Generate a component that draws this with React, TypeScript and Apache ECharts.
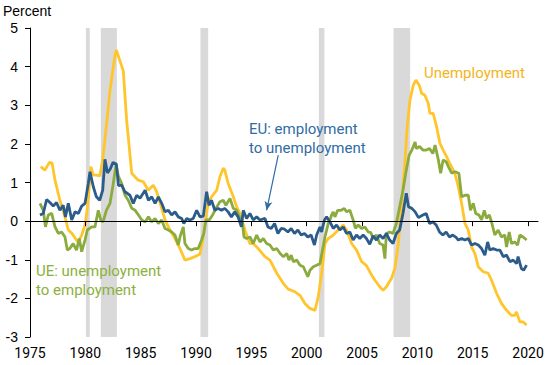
import React, { useEffect, useRef } from "react";
import * as echarts from "echarts";

const xTicks = [1975, 1980, 1985, 1990, 1995, 2000, 2005, 2010, 2015, 2020];
const yMin = -3;
const yMax = 5;

const recessions: [number, number][] = [
  [1980.05, 1980.4],
  [1981.4, 1982.85],
  [1990.4, 1991.1],
  [2001.1, 2001.6],
  [2007.85, 2009.35],
];

const unemployment: [number, number][] = [
  [1975.97, 1.41], [1976.35, 1.32], [1976.75, 1.52], [1977.0, 1.5], [1977.26, 1.06], [1977.7, 0.54],
  [1978.16, 0.11], [1978.46, -0.23], [1978.77, -0.31], [1979.2, -0.49], [1979.37, -0.54], [1979.67, -0.36],
  [1979.97, -0.1], [1980.18, 0.33], [1980.36, 0.89], [1980.5, 1.41], [1980.72, 1.19], [1981.0, 1.19],
  [1981.3, 1.17], [1981.57, 1.58], [1981.93, 2.54], [1982.23, 3.39], [1982.68, 4.3], [1982.8, 4.43],
  [1983.43, 3.89], [1983.73, 2.62], [1984.19, 1.24], [1984.78, 1.06], [1985.24, 1.02], [1985.69, 0.8],
  [1986.14, 0.93], [1986.45, 0.76], [1986.9, 0.33], [1987.2, 0.03], [1987.65, -0.23], [1988.1, -0.45],
  [1988.55, -0.71], [1989.0, -1.01], [1989.45, -0.97], [1989.9, -0.92], [1990.36, -0.85], [1990.6, -0.5],
  [1990.8, -0.06], [1991.1, 0.46], [1991.4, 0.63], [1991.87, 0.8], [1992.16, 1.15], [1992.46, 1.37],
  [1992.6, 1.32], [1992.9, 0.98], [1993.37, 0.63], [1993.67, 0.37], [1993.97, 0.2], [1994.42, -0.23],
  [1994.87, -0.58], [1995.17, -0.58], [1995.62, -0.71], [1996.23, -0.92], [1996.68, -1.01], [1997.3, -1.35],
  [1997.88, -1.61], [1998.33, -1.76], [1998.94, -1.83], [1999.39, -1.92], [1999.84, -2.13], [2000.29, -2.26],
  [2000.75, -2.31], [2001.04, -1.96], [2001.35, -1.35], [2001.65, -0.58], [2001.95, -0.45], [2002.4, -0.36],
  [2002.85, -0.23], [2003.3, -0.1], [2003.6, -0.23], [2004.06, -0.58], [2004.51, -0.75], [2004.96, -1.05],
  [2005.4, -1.15], [2005.87, -1.4], [2006.17, -1.53], [2006.6, -1.7], [2006.9, -1.79], [2007.2, -1.7],
  [2007.67, -1.48], [2007.97, -1.22], [2008.27, -0.62], [2008.57, 0.4], [2008.87, 1.5], [2009.08, 2.44],
  [2009.33, 3.13], [2009.63, 3.52], [2009.87, 3.65], [2010.17, 3.52], [2010.38, 3.31], [2010.68, 3.26],
  [2010.98, 3.05], [2011.13, 2.79], [2011.43, 2.79], [2011.74, 2.44], [2012.04, 2.01], [2012.33, 1.84],
  [2012.64, 1.67], [2012.94, 1.49], [2013.39, 1.24], [2013.69, 0.9], [2014.0, 0.46], [2014.3, -0.06],
  [2014.6, -0.23], [2014.9, -0.67], [2015.2, -0.84], [2015.5, -1.18], [2015.95, -1.31], [2016.4, -1.35],
  [2016.7, -1.53], [2017.16, -1.87], [2017.6, -2.13], [2018.06, -2.31], [2018.5, -2.44], [2018.8, -2.44],
  [2018.96, -2.35], [2019.26, -2.61], [2019.56, -2.61], [2019.87, -2.69],
];

const eu: [number, number][] = [
  [1975.9, 0.16], [1976.2, 0.2], [1976.5, 0.56], [1976.8, 0.48], [1977.1, 0.39], [1977.4, 0.48],
  [1977.7, 0.28], [1978.0, 0.41], [1978.2, 0.11], [1978.46, 0.46], [1978.77, 0.03], [1979.07, 0.24],
  [1979.37, 0.2], [1979.67, 0.39], [1979.97, 0.46], [1980.27, 0.98], [1980.42, 1.28], [1980.72, 0.89],
  [1981.0, 0.63], [1981.3, 0.54], [1981.57, 0.8], [1981.77, 1.6], [1982.0, 1.25], [1982.25, 1.35],
  [1982.5, 1.52], [1982.8, 1.48], [1983.0, 0.92], [1983.28, 0.93], [1983.58, 0.76], [1984.03, 0.67],
  [1984.33, 0.46], [1984.64, 0.67], [1984.94, 0.59], [1985.4, 0.8], [1985.7, 0.54], [1986.0, 0.63],
  [1986.3, 0.46], [1986.6, 0.63], [1986.9, 0.46], [1987.2, 0.24], [1987.5, 0.28], [1987.8, 0.16],
  [1988.1, 0.24], [1988.4, 0.11], [1988.7, 0.07], [1988.9, -0.06], [1989.16, 0.07], [1989.45, 0.03],
  [1989.75, 0.07], [1990.06, 0.28], [1990.36, 0.11], [1990.66, 0.13], [1990.96, 0.76], [1991.17, 0.41],
  [1991.4, 0.54], [1991.7, 0.28], [1992.0, 0.33], [1992.3, 0.28], [1992.6, 0.33], [1992.9, 0.24],
  [1993.2, 0.11], [1993.5, 0.24], [1993.8, 0.11], [1994.1, -0.15], [1994.27, 0.28], [1994.57, 0.07],
  [1994.87, 0.2], [1995.17, 0.03], [1995.48, 0.11], [1995.78, 0.03], [1996.23, 0.07], [1996.5, -0.15],
  [1996.8, -0.19], [1997.1, -0.06], [1997.4, -0.32], [1997.7, -0.19], [1998.0, -0.21], [1998.3, -0.28],
  [1998.6, -0.19], [1998.9, -0.32], [1999.2, -0.23], [1999.5, -0.36], [1999.8, -0.32], [2000.1, -0.41],
  [2000.4, -0.36], [2000.7, -0.62], [2000.9, -0.36], [2001.2, -0.15], [2001.35, -0.28], [2001.6, 0.03],
  [2001.8, 0.11], [2002.1, -0.02], [2002.4, -0.19], [2002.7, -0.1], [2003.0, -0.23], [2003.3, -0.15],
  [2003.6, -0.32], [2003.9, -0.28], [2004.2, -0.49], [2004.5, -0.36], [2004.8, -0.45], [2005.1, -0.36],
  [2005.4, -0.45], [2005.7, -0.6], [2006.0, -0.38], [2006.3, -0.49], [2006.6, -0.36], [2006.9, -0.45],
  [2007.2, -0.32], [2007.5, -0.49], [2007.8, -0.58], [2008.1, -0.32], [2008.4, -0.23], [2008.7, 0.2],
  [2009.0, 0.72], [2009.2, 0.37], [2009.5, 0.33], [2009.8, 0.24], [2010.1, 0.09], [2010.5, 0.16],
  [2010.8, 0.2], [2011.1, -0.06], [2011.4, -0.02], [2011.7, -0.1], [2012.0, -0.28], [2012.3, -0.36],
  [2012.6, -0.28], [2012.9, -0.41], [2013.2, -0.36], [2013.5, -0.42], [2013.7, -0.49], [2014.0, -0.45],
  [2014.3, -0.49], [2014.6, -0.45], [2014.9, -0.62], [2015.2, -0.58], [2015.5, -0.62], [2015.8, -0.71],
  [2016.1, -0.88], [2016.35, -0.54], [2016.55, -0.75], [2016.85, -0.71], [2017.16, -0.75], [2017.46, -0.75],
  [2017.76, -0.92], [2018.06, -0.88], [2018.36, -1.05], [2018.66, -1.01], [2018.96, -1.1], [2019.1, -0.92],
  [2019.4, -1.23], [2019.6, -1.27], [2019.87, -1.14],
];

const ue: [number, number][] = [
  [1975.9, 0.46], [1976.2, 0.28], [1976.4, -0.15], [1976.65, 0.16], [1976.96, 0.2], [1977.26, -0.15],
  [1977.56, -0.32], [1977.86, -0.28], [1978.16, -0.41], [1978.37, -0.75], [1978.6, -0.71], [1978.9, -0.58],
  [1979.2, -0.75], [1979.45, -0.45], [1979.67, -0.79], [1979.97, -0.49], [1980.18, -0.23], [1980.57, -0.15],
  [1980.87, -0.15], [1981.17, 0.28], [1981.39, 0.03], [1981.6, -0.02], [1981.9, 0.28], [1982.23, 0.46],
  [1982.5, 0.93], [1982.77, 1.45], [1983.0, 1.15], [1983.28, 0.98], [1983.58, 0.67], [1983.88, 0.54],
  [1984.2, 0.33], [1984.5, 0.28], [1984.8, 0.16], [1985.1, 0.03], [1985.4, -0.02], [1985.7, 0.11],
  [1986.0, -0.02], [1986.3, 0.07], [1986.6, -0.06], [1986.9, 0.03], [1987.2, -0.19], [1987.5, -0.23],
  [1987.8, -0.28], [1988.1, -0.36], [1988.4, -0.62], [1988.55, -0.41], [1988.85, -0.15], [1989.0, -0.58],
  [1989.3, -0.71], [1989.6, -0.75], [1989.9, -0.71], [1990.2, -0.71], [1990.5, -0.49], [1990.7, -0.32],
  [1990.9, 0.03], [1991.2, 0.03], [1991.5, 0.16], [1991.8, 0.33], [1992.16, 0.5], [1992.46, 0.54],
  [1992.7, 0.41], [1993.07, 0.59], [1993.37, 0.33], [1993.67, 0.28], [1993.97, 0.07], [1994.2, -0.06],
  [1994.33, -0.41], [1994.57, -0.45], [1994.87, -0.41], [1995.17, -0.58], [1995.48, -0.36], [1995.78, -0.54],
  [1996.08, -0.45], [1996.38, -0.58], [1996.68, -0.62], [1996.98, -0.75], [1997.29, -0.71], [1997.6, -0.84],
  [1997.9, -0.92], [1998.2, -0.84], [1998.4, -1.01], [1998.6, -0.88], [1998.8, -1.05], [1999.1, -1.01],
  [1999.4, -1.14], [1999.7, -1.18], [1999.9, -1.31], [2000.1, -1.44], [2000.3, -1.27], [2000.6, -1.18],
  [2000.9, -1.14], [2001.2, -1.1], [2001.4, -0.79], [2001.65, -0.41], [2001.95, -0.06], [2002.1, 0.03],
  [2002.25, 0.16], [2002.4, 0.24], [2002.55, 0.11], [2002.8, 0.28], [2003.1, 0.28], [2003.4, 0.33],
  [2003.6, 0.24], [2003.9, 0.28], [2004.2, 0.03], [2004.4, -0.19], [2004.65, -0.1], [2004.96, -0.19],
  [2005.26, -0.15], [2005.56, -0.28], [2005.8, -0.3], [2006.0, -0.45], [2006.3, -0.36], [2006.6, -0.58],
  [2006.9, -0.62], [2007.07, -0.97], [2007.2, -0.32], [2007.5, -0.28], [2007.8, -0.32], [2008.1, -0.06],
  [2008.4, 0.37], [2008.7, 0.8], [2009.0, 1.32], [2009.26, 1.71], [2009.5, 1.84], [2009.8, 2.05],
  [2009.9, 1.88], [2010.2, 1.93], [2010.5, 1.84], [2010.8, 1.84], [2011.1, 1.88], [2011.4, 1.75],
  [2011.6, 1.97], [2011.9, 1.58], [2012.1, 1.24], [2012.33, 1.58], [2012.6, 1.54], [2012.8, 1.41],
  [2013.1, 1.24], [2013.4, 1.28], [2013.75, 1.24], [2014.0, 0.63], [2014.3, 0.67], [2014.6, 0.67],
  [2014.8, 0.28], [2015.05, 0.46], [2015.27, 0.2], [2015.56, 0.16], [2015.8, 0.03], [2016.05, 0.28],
  [2016.25, 0.07], [2016.5, 0.16], [2016.7, -0.02], [2017.0, -0.36], [2017.3, -0.23], [2017.6, -0.41],
  [2017.9, -0.36], [2018.06, -0.67], [2018.3, -0.28], [2018.5, -0.58], [2018.8, -0.54], [2019.05, -0.62],
  [2019.26, -0.36], [2019.56, -0.41], [2019.87, -0.49],
];

const euArrow: [[number, number], [number, number]] = [
  [1997.43, 1.71],
  [1996.38, 0.28],
];

const YELLOW = "#ffc52b";
const BLUE = "#2b5c8a";
const GREEN = "#8bab3e";

export default function App() {
  const ref = useRef<HTMLDivElement>(null);

  useEffect(() => {
    if (!ref.current) return;
    const chart = echarts.init(ref.current, undefined, { renderer: "svg" });
    const axisFontY = { fontFamily: "Liberation Sans, Arial, sans-serif", fontSize: 14, color: "#000" };
    const option: any = {
      animation: false,
      grid: { left: 30, right: 12, top: 28, bottom: 28, containLabel: false },
      xAxis: [
        {
          type: "value",
          min: 1975,
          max: 2020.9,
          z: 6,
          axisLine: { show: true, onZero: true, lineStyle: { color: "#000", width: 1 } },
          axisTick: { show: true, length: 5, lineStyle: { color: "#000" }, customValues: xTicks.slice(1) },
          axisLabel: { show: false },
          splitLine: { show: false },
        },
        {
          type: "value",
          position: "bottom",
          min: 1975,
          max: 2020.9,
          axisLine: { show: false, onZero: false },
          axisTick: { show: false },
          axisLabel: {
            show: true,
            customValues: xTicks,
            margin: 9,
            fontFamily: "Roboto, sans-serif",
            fontSize: 14,
            color: "#000",
            formatter: (v: number) => String(Math.round(v)),
          },
          splitLine: { show: false },
        },
      ],
      yAxis: {
        type: "value",
        min: yMin,
        max: yMax,
        interval: 1,
        z: 6,
        axisLine: { show: true, onZero: false, lineStyle: { color: "#000", width: 1 } },
        axisTick: { show: true, length: 5, lineStyle: { color: "#000" } },
        axisLabel: { ...axisFontY, margin: 12 },
        splitLine: { show: false },
      },
      series: [
        {
          type: "custom",
          name: "recessions",
          xAxisIndex: 0,
          silent: true,
          z: 1,
          data: recessions,
          encode: { x: [0, 1] },
          renderItem: (_params: any, api: any) => {
            const tl = api.coord([api.value(0), yMax]);
            const br = api.coord([api.value(1), yMin]);
            return {
              type: "rect",
              shape: { x: tl[0], y: tl[1], width: br[0] - tl[0], height: br[1] - tl[1] },
              style: { fill: "#d9d9d9" },
            };
          },
        },
        {
          type: "line",
          name: "Unemployment",
          data: unemployment,
          xAxisIndex: 0,
          showSymbol: false,
          z: 3,
          lineStyle: { color: YELLOW, width: 2.8 },
          itemStyle: { color: YELLOW },
        },
        {
          type: "line",
          name: "UE",
          data: ue,
          xAxisIndex: 0,
          showSymbol: false,
          z: 4,
          lineStyle: { color: GREEN, width: 2.8 },
          itemStyle: { color: GREEN },
        },
        {
          type: "line",
          name: "EU",
          data: eu,
          xAxisIndex: 0,
          showSymbol: false,
          z: 5,
          lineStyle: { color: BLUE, width: 2.8 },
          itemStyle: { color: BLUE },
          markLine: {
            silent: true,
            symbol: ["none", "arrow"],
            symbolSize: [6, 9],
            label: { show: false },
            lineStyle: { color: "#2f6ca3", width: 1.2, type: "solid" },
            data: [[{ coord: euArrow[0] }, { coord: euArrow[1] }]],
          },
        },
      ],
      graphic: [
        {
          type: "text",
          x: 3,
          y: 4,
          z: 100,
          style: { text: "Percent", fill: "#000", fontSize: 14, fontFamily: "Liberation Sans, Arial, sans-serif" },
        },
        {
          type: "text",
          x: 424,
          y: 64,
          z: 100,
          style: { text: "Unemployment", fill: "#f2b51c", fontSize: 15, lineHeight: 18, fontFamily: "Roboto, sans-serif" },
        },
        {
          type: "text",
          x: 249,
          y: 119,
          z: 100,
          style: {
            text: "EU: employment\nto unemployment",
            fill: "#2f6ca3",
            fontSize: 15,
            lineHeight: 19,
            fontFamily: "Roboto, sans-serif",
          },
        },
        {
          type: "text",
          x: 36,
          y: 262,
          z: 100,
          style: {
            text: "UE: unemployment\nto employment",
            fill: "#8cb040",
            fontSize: 15,
            lineHeight: 18.5,
            fontFamily: "Roboto, sans-serif",
          },
        },
      ],
    };
    chart.setOption(option);
    return () => chart.dispose();
  }, []);

  return <div ref={ref} style={{ position: "absolute", left: 0, top: 0, width: 550, height: 365 }} />;
}
